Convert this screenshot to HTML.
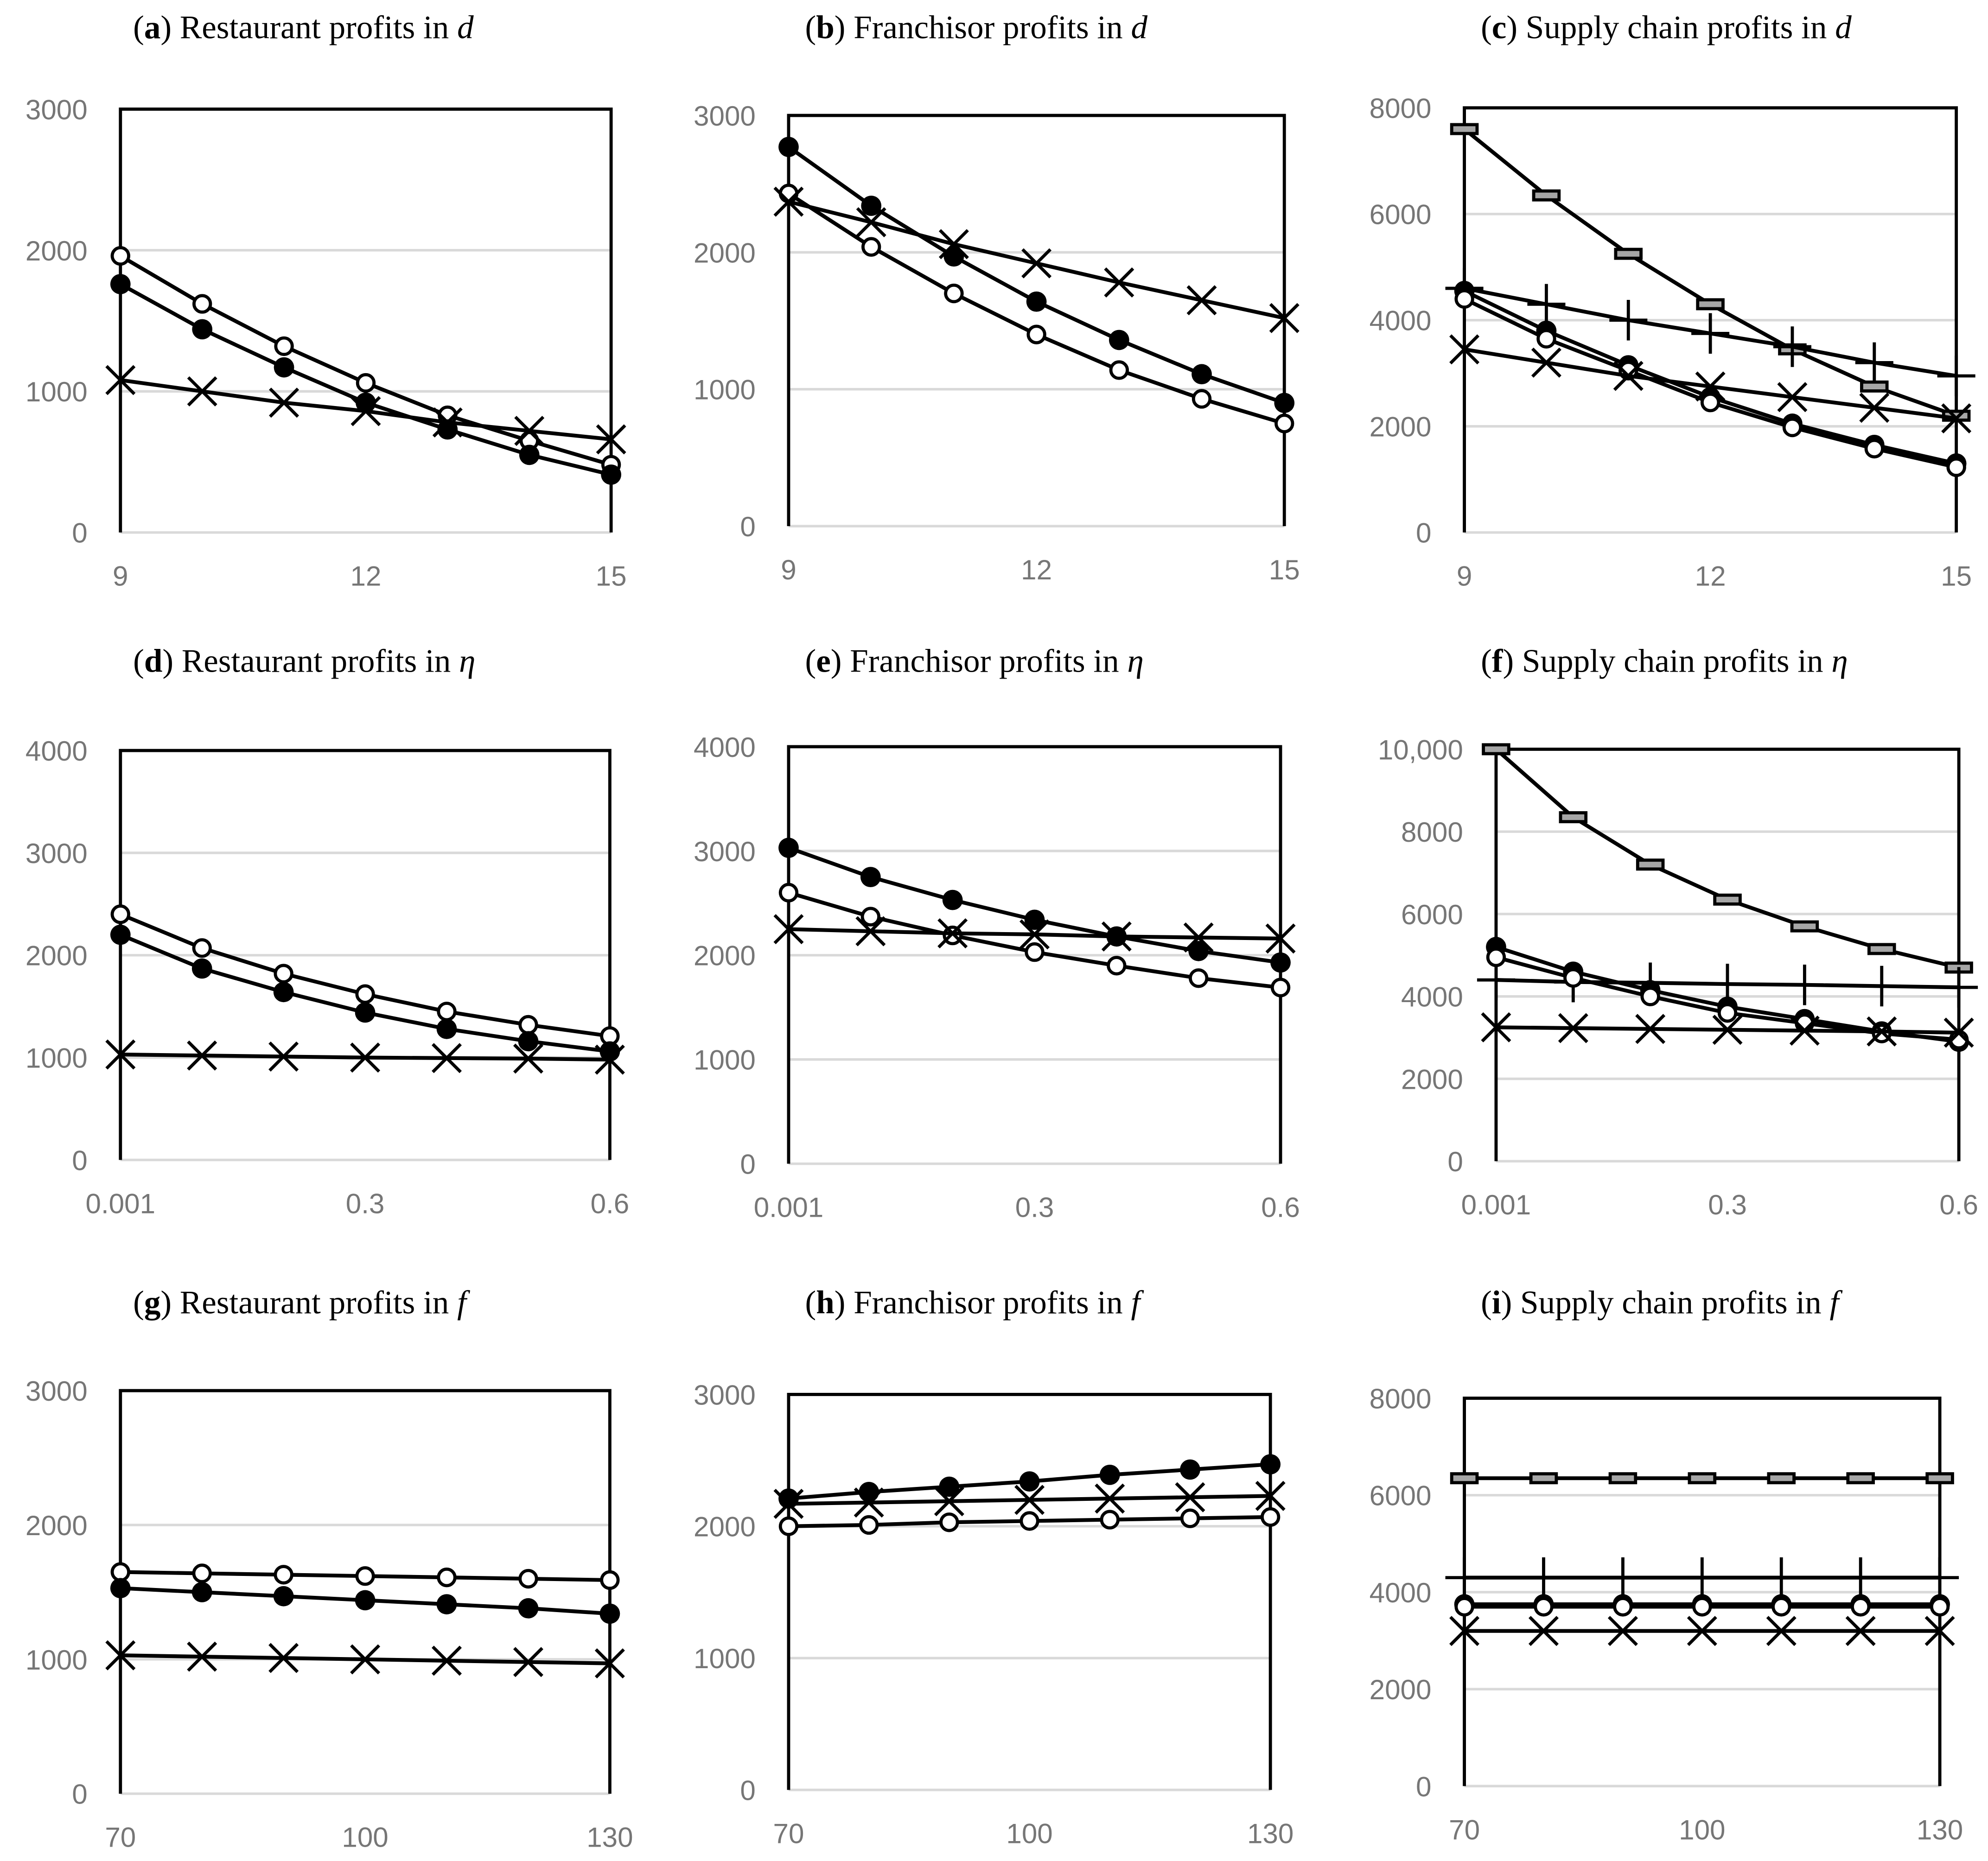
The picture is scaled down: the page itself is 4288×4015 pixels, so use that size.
<!DOCTYPE html>
<html><head><meta charset="utf-8"><style>
html,body{margin:0;padding:0;background:#fff}
svg{display:block}
.t{font-family:"Liberation Serif",serif;font-size:26px;fill:#000}
.tk{font-family:"Liberation Sans",sans-serif;font-size:22px;fill:#767676}
</style></head><body>
<svg id="c" width="4288" height="4015" viewBox="0 0 1568 1468" xmlns="http://www.w3.org/2000/svg"></svg>
<script>
const dLabels=["9","","","12","","","15"];
const etaLabels=["0.001","","","0.3","","","0.6"];
const fLabels=["70","","","100","","","130"];
const aOpen=[1960,1620,1320,1060,830,650,480];
const aFilled=[1760,1440,1170,920,730,550,410];
const aCross=[1080,1000,920,860,780,720,660];
const bFilled=[2770,2340,1970,1640,1360,1110,900];
const bOpen=[2430,2040,1700,1400,1140,930,750];
const bCross=[2370,2220,2060,1920,1780,1650,1520];
const cDash=[7600,6350,5250,4300,3450,2750,2200];
const cPlus=[4600,4300,4000,3750,3500,3200,2950];
const cFilled=[4550,3800,3150,2550,2050,1650,1300];
const cOpen=[4400,3650,3050,2450,1980,1580,1230];
const cCross=[3450,3200,2950,2750,2550,2350,2150];
const dOpen=[2400,2070,1820,1620,1450,1320,1210];
const dFilled=[2200,1870,1640,1440,1280,1160,1060];
const dCross=[1030,1020,1010,1000,995,990,980];
const eFilled=[3030,2750,2530,2340,2180,2040,1930];
const eOpen=[2600,2370,2190,2030,1900,1780,1690];
const eCross=[2250,2230,2210,2200,2180,2170,2160];
const fDash=[10000,8350,7200,6350,5700,5150,4700];
const fPlus=[4400,4350,4330,4300,4280,4250,4220];
const fFilled=[5200,4600,4150,3750,3450,3150,2900];
const fOpen=[4950,4450,4000,3600,3350,3100,2950];
const fCross=[3250,3230,3210,3190,3170,3150,3120];
const gOpen=[1650,1640,1630,1620,1610,1600,1590];
const gFilled=[1530,1500,1470,1440,1410,1380,1340];
const gCross=[1030,1020,1010,1000,990,980,970];
const hFilled=[2210,2260,2300,2340,2390,2430,2470];
const hCross=[2170,2180,2190,2200,2210,2220,2230];
const hOpen=[2000,2010,2030,2040,2050,2060,2070];
const iDash=[6350,6350,6350,6350,6350,6350,6350];
const iPlus=[4300,4300,4300,4300,4300,4300,4300];
const iFilled=[3750,3750,3750,3750,3750,3750,3750];
const iOpen=[3700,3700,3700,3700,3700,3700,3700];
const iCross=[3200,3200,3200,3200,3200,3200,3200];

const NS="http://www.w3.org/2000/svg";
const svg=document.getElementById('c');
function mk(tag,attrs,parent){const e=document.createElementNS(NS,tag);for(const k in attrs)e.setAttribute(k,attrs[k]);(parent||svg).appendChild(e);return e;}

const panels=[
 {id:'a',letter:'a',title:') Restaurant profits in ',sym:'d',tx:105,ty:30,x0:95,x1:482,yt:86,yb:420,max:3000,step:1000,xl:dLabels,series:[[aOpen,'open'],[aFilled,'filled'],[aCross,'cross']]},
 {id:'b',letter:'b',title:') Franchisor profits in ',sym:'d',tx:635,ty:30,x0:622,x1:1013,yt:91,yb:415,max:3000,step:1000,xl:dLabels,series:[[bFilled,'filled'],[bOpen,'open'],[bCross,'cross']]},
 {id:'c',letter:'c',title:') Supply chain profits in ',sym:'d',tx:1168,ty:30,x0:1155,x1:1543,yt:85,yb:420,max:8000,step:2000,xl:dLabels,series:[[cDash,'dash'],[cPlus,'plus'],[cFilled,'filled'],[cOpen,'open'],[cCross,'cross']]},
 {id:'d',letter:'d',title:') Restaurant profits in ',sym:'η',tx:105,ty:530,x0:95,x1:481,yt:592,yb:915,max:4000,step:1000,xl:etaLabels,series:[[dOpen,'open'],[dFilled,'filled'],[dCross,'cross']]},
 {id:'e',letter:'e',title:') Franchisor profits in ',sym:'η',tx:635,ty:530,x0:622,x1:1010,yt:589,yb:918,max:4000,step:1000,xl:etaLabels,series:[[eFilled,'filled'],[eOpen,'open'],[eCross,'cross']]},
 {id:'f',letter:'f',title:') Supply chain profits in ',sym:'η',tx:1168,ty:530,x0:1180,x1:1545,yt:591,yb:916,max:10000,step:2000,xl:etaLabels,series:[[fDash,'dash'],[fPlus,'plus'],[fFilled,'filled'],[fOpen,'open'],[fCross,'cross']]},
 {id:'g',letter:'g',title:') Restaurant profits in ',sym:'f',tx:105,ty:1036,x0:95,x1:481,yt:1097,yb:1415,max:3000,step:1000,xl:fLabels,series:[[gOpen,'open'],[gFilled,'filled'],[gCross,'cross']]},
 {id:'h',letter:'h',title:') Franchisor profits in ',sym:'f',tx:635,ty:1036,x0:622,x1:1002,yt:1100,yb:1412,max:3000,step:1000,xl:fLabels,series:[[hFilled,'filled'],[hCross,'cross'],[hOpen,'open']]},
 {id:'i',letter:'i',title:') Supply chain profits in ',sym:'f',tx:1168,ty:1036,x0:1155,x1:1530,yt:1103,yb:1409,max:8000,step:2000,xl:fLabels,series:[[iDash,'dash'],[iPlus,'plus'],[iFilled,'filled'],[iOpen,'open'],[iCross,'cross']]}
];

function fmt(v){return v>=10000?v.toLocaleString('en-US'):String(v);}

panels.forEach(p=>{
 const g=mk('g',{});
 
 
 const xs=i=>p.x0+(p.x1-p.x0)*i/6;
 const ys=v=>p.yb-(p.yb-p.yt)*v/p.max;
 const t=mk('text',{x:p.tx,y:p.ty,class:'t'},g);
 
 
 t.innerHTML='(<tspan font-weight="bold">'+p.letter+'</tspan>'+p.title+'<tspan font-style="italic"> '+p.sym+'</tspan>';
 for(let v=0;v<=p.max;v+=p.step){
  if(v>0&&v<p.max){const gl=mk('line',{x1:p.x0,x2:p.x1,y1:ys(v),y2:ys(v),stroke:'#d9d9d9','stroke-width':2},g);
   }
  const tl=mk('text',{x:p.x0-26,y:ys(v)+8,class:'tk','text-anchor':'end'},g);
  
  tl.textContent=fmt(v);
 }
 const bl=mk('line',{x1:p.x0,x2:p.x1,y1:p.yb,y2:p.yb,stroke:'#d9d9d9','stroke-width':2},g);
 
 const fr=mk('path',{d:`M${p.x0} ${p.yb}V${p.yt}H${p.x1}V${p.yb}`,fill:'none',stroke:'#000','stroke-width':2.5},g);
 
 p.xl.forEach((l,i)=>{if(!l)return;
  const xt=mk('text',{x:xs(i),y:p.yb+42,class:'tk','text-anchor':'middle'},g);
  
  xt.textContent=l;});
 p.series.forEach(([vals,kind])=>{
  const sg=mk('g',{},g);
  
  
  const pts=vals.map((v,i)=>xs(i)+','+ys(v)).join(' ');
  mk('polyline',{points:pts,fill:'none',stroke:'#000','stroke-width':3},sg);
  vals.forEach((v,i)=>{
   const x=xs(i),y=ys(v);let m;
   if(kind==='open')m=mk('circle',{cx:x,cy:y,r:6.5,fill:'#fff',stroke:'#000','stroke-width':2.5},sg);
   else if(kind==='filled')m=mk('circle',{cx:x,cy:y,r:8,fill:'#000'},sg);
   else if(kind==='cross')m=mk('path',{d:`M${x-11} ${y-11}L${x+11} ${y+11}M${x-11} ${y+11}L${x+11} ${y-11}`,stroke:'#000','stroke-width':2.5},sg);
   else if(kind==='plus')m=mk('path',{d:`M${x-15} ${y}H${x+15}M${x} ${y-16}V${y+16}`,stroke:'#000','stroke-width':2.5},sg);
   else m=mk('rect',{x:x-10,y:y-3.5,width:20,height:7,fill:'#a6a6a6',stroke:'#000','stroke-width':2.5},sg);
   
   
  });
 });
});
</script>
</body></html>
